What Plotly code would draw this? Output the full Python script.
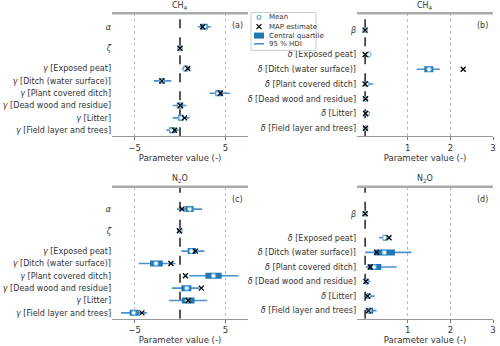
import plotly.graph_objects as go

### Data

gamma_labels = ["<i>α</i>", "<i>ζ</i>",
                "<i>γ</i> [Exposed peat]", "<i>γ</i> [Ditch (water surface)]",
                "<i>γ</i> [Plant covered ditch]", "<i>γ</i> [Dead wood and residue]",
                "<i>γ</i> [Litter]", "<i>γ</i> [Field layer and trees]"]
delta_labels = ["<i>β</i>",
                "<i>δ</i> [Exposed peat]", "<i>δ</i> [Ditch (water surface)]",
                "<i>δ</i> [Plant covered ditch]", "<i>δ</i> [Dead wood and residue]",
                "<i>δ</i> [Litter]", "<i>δ</i> [Field layer and trees]"]

# panel (a) CH4, gamma parameters
a_mean = [2.7, 0.0, 0.6, -2.0, 4.2, -0.05, 0.1, -0.9]
a_map = [2.5, 0.0, 0.85, -2.0, 4.45, 0.03, 0.5, -0.6]
a_q_lo = [2.3, -0.1, 0.4, -2.3, 3.9, -0.35, -0.2, -1.2]
a_q_hi = [3.05, 0.1, 0.85, -1.7, 4.7, 0.35, 0.4, -0.5]
a_hdi_lo = [1.95, -0.2, 0.2, -2.9, 3.25, -0.8, -0.8, -1.5]
a_hdi_hi = [3.4, 0.2, 1.15, -0.95, 5.5, 0.7, 1.05, -0.15]

# panel (b) CH4, delta parameters
b_mean = [0.0, 0.085, 1.5, 0.04, 0.01, 0.05, 0.01]
b_map = [0.0, 0.0, 2.3, 0.0, 0.01, 0.01, 0.01]
b_q_lo = [-0.005, 0.07, 1.39, 0.01, 0.0, 0.03, 0.0]
b_q_hi = [0.005, 0.1, 1.6, 0.07, 0.02, 0.06, 0.02]
b_hdi_lo = [-0.01, 0.01, 1.21, 0.0, -0.01, 0.0, -0.01]
b_hdi_hi = [0.01, 0.11, 1.75, 0.19, 0.04, 0.09, 0.03]

# panel (c) N2O, gamma parameters
c_mean = [1.07, 0.0, 1.25, -2.65, 3.7, 0.75, 0.8, -5.1]
c_map = [0.22, -0.07, 1.7, -1.0, 0.6, 2.35, 0.9, -4.2]
c_q_lo = [0.6, -0.05, 0.85, -3.3, 2.8, 0.15, 0.2, -5.55]
c_q_hi = [1.5, 0.05, 1.75, -1.9, 4.6, 1.25, 1.6, -4.55]
c_hdi_lo = [-0.33, -0.1, 0.15, -4.55, 1.0, -0.9, -1.2, -6.5]
c_hdi_hi = [2.43, 0.1, 2.7, -0.5, 6.45, 2.15, 3.0, -3.65]

# panel (d) N2O, delta parameters
d_mean = [0.0, 0.46, 0.45, 0.21, 0.03, 0.08, 0.1]
d_map = [0.0, 0.56, 0.27, 0.12, 0.02, 0.06, 0.08]
d_q_lo = [-0.005, 0.42, 0.22, 0.085, 0.01, 0.04, 0.05]
d_q_hi = [0.005, 0.5, 0.7, 0.38, 0.05, 0.13, 0.19]
d_hdi_lo = [-0.01, 0.33, 0.0, 0.01, 0.0, 0.02, 0.02]
d_hdi_hi = [0.01, 0.53, 1.09, 0.74, 0.12, 0.22, 0.27]

legend_names = ["Mean", "MAP estimate", "Central quartile", "95 % HDI"]

### Layout helpers

W, H = 500, 346
gamma_rows = [8.4, 6.65, 5, 4, 3, 2, 1, 0]
delta_rows = [6.65, 5, 4, 3, 2, 1, 0]

BOX = "#1f77b4"
HDI = "#4a92cf"
MEAN_EDGE = "#6aaee0"
FONT = "DejaVu Sans"

fig = go.Figure()

panels = [
    dict(ax="", mean=a_mean, mp=a_map, qlo=a_q_lo, qhi=a_q_hi, hlo=a_hdi_lo, hhi=a_hdi_hi,
         labels=gamma_labels, rows=gamma_rows, xdom=[0.224, 0.496], ydom=[0.606, 0.962],
         xr=[-7.5, 7.5], yr=[-0.5, 9.5], ticks=[-5, 5], tt=["−5", "5"],
         title="CH<sub>4</sub>", tag="(a)", zl=dict(color="#444", width=1.8)),
    dict(ax="2", mean=b_mean, mp=b_map, qlo=b_q_lo, qhi=b_q_hi, hlo=b_hdi_lo, hhi=b_hdi_hi,
         labels=delta_labels, rows=delta_rows, xdom=[0.714, 0.986], ydom=[0.606, 0.962],
         xr=[-0.19, 3.0], yr=[-0.55, 7.8], ticks=[1, 2, 3], tt=["1", "2", "3"],
         title="CH<sub>4</sub>", tag="(b)", zl=dict(color="black", width=1.3)),
    dict(ax="3", mean=c_mean, mp=c_map, qlo=c_q_lo, qhi=c_q_hi, hlo=c_hdi_lo, hhi=c_hdi_hi,
         labels=gamma_labels, rows=gamma_rows, xdom=[0.224, 0.496], ydom=[0.079, 0.46],
         xr=[-7.5, 7.5], yr=[-0.47, 10.2], ticks=[-5, 5], tt=["−5", "5"],
         title="N<sub>2</sub>O", tag="(c)", zl=dict(color="#444", width=1.8)),
    dict(ax="4", mean=d_mean, mp=d_map, qlo=d_q_lo, qhi=d_q_hi, hlo=d_hdi_lo, hhi=d_hdi_hi,
         labels=delta_labels, rows=delta_rows, xdom=[0.714, 0.986], ydom=[0.079, 0.46],
         xr=[-0.19, 3.0], yr=[-0.55, 8.5], ticks=[1, 2, 3], tt=["1", "2", "3"],
         title="N<sub>2</sub>O", tag="(d)", zl=dict(color="black", width=1.3)),
]

for p in panels:
    xa, ya = "x" + p["ax"], "y" + p["ax"]
    hx, hy, qx, qy = [], [], [], []
    for lo, hi, qlo, qhi, r in zip(p["hlo"], p["hhi"], p["qlo"], p["qhi"], p["rows"]):
        hx += [lo, hi, None]
        hy += [r, r, None]
        qx += [qlo, qhi, None]
        qy += [r, r, None]
    # zero line
    fig.add_trace(go.Scatter(x=[0, 0], y=p["yr"], mode="lines", xaxis=xa, yaxis=ya,
                             line=dict(dash="dash", **p["zl"]), hoverinfo="skip"))
    fig.add_trace(go.Scatter(x=hx, y=hy, mode="lines", xaxis=xa, yaxis=ya,
                             line=dict(color=HDI, width=1.6), name="95 % HDI"))
    fig.add_trace(go.Scatter(x=qx, y=qy, mode="lines", xaxis=xa, yaxis=ya,
                             line=dict(color=BOX, width=6), name="Central quartile"))
    fig.add_trace(go.Scatter(x=p["mean"], y=p["rows"], mode="markers", xaxis=xa, yaxis=ya,
                             marker=dict(symbol="circle", size=4.5, color="white",
                                         line=dict(color=MEAN_EDGE, width=1.1)),
                             name="Mean"))
    fig.add_trace(go.Scatter(x=p["mp"], y=p["rows"], mode="markers", xaxis=xa, yaxis=ya,
                             marker=dict(symbol="x-thin", size=5, color="black",
                                         line=dict(color="black", width=1.3)),
                             name="MAP estimate"))

    fig.update_layout({
        "xaxis" + p["ax"]: dict(domain=p["xdom"], range=p["xr"], anchor=ya, automargin=False,
                                tickvals=p["ticks"], ticktext=p["tt"], ticks="outside",
                                ticklen=3, tickcolor="#777", showline=True, linecolor="#999",
                                linewidth=1, showgrid=True, gridcolor="#bbb",
                                griddash="dot", gridwidth=1, zeroline=False,
                                tickfont=dict(size=8.5, color="#333"),
                                title=dict(text="Parameter value (-)",
                                           font=dict(size=8.5, color="#333"), standoff=2)),
        "yaxis" + p["ax"]: dict(domain=p["ydom"], range=p["yr"], anchor=xa, automargin=False,
                                tickvals=p["rows"], ticktext=p["labels"], ticks="",
                                showline=False, showgrid=False, zeroline=False,
                                tickfont=dict(size=8, color="#333")),
    })
    # thick top spine
    fig.add_shape(type="line", xref=xa + " domain", yref=ya + " domain",
                  x0=0, x1=1, y0=1, y1=1, line=dict(color="#aaa", width=2.5))
    fig.add_annotation(text=p["title"], xref=xa + " domain", yref=ya + " domain",
                       x=0.5, y=1.005, yanchor="bottom", showarrow=False,
                       font=dict(size=8, color="#333"))
    fig.add_annotation(text=p["tag"], xref=xa + " domain", yref=ya + " domain",
                       x=0.98, y=0.95, xanchor="right", yanchor="top", showarrow=False,
                       font=dict(size=8, color="#333"))

# compact hand-drawn legend (plotly's own legend rows are too tall here)
def px(x):
    return x / W


def py(y):
    return 1 - y / H


lx0, lx1, ly0, ly1 = 251, 316, 12.5, 50.5
entry_y = [17.3, 26.6, 35.6, 43.8]
sym_x = 259
fig.add_shape(type="rect", xref="paper", yref="paper", x0=px(lx0), x1=px(lx1),
              y0=py(ly1), y1=py(ly0), line=dict(color="#ccc", width=1),
              fillcolor="white", layer="above")
# Mean: hollow circle
fig.add_shape(type="circle", xref="paper", yref="paper",
              x0=px(sym_x - 2), x1=px(sym_x + 2), y0=py(entry_y[0] + 2), y1=py(entry_y[0] - 2),
              line=dict(color=MEAN_EDGE, width=1.1), fillcolor="white", layer="above")
# MAP: cross
for d in (1, -1):
    fig.add_shape(type="line", xref="paper", yref="paper",
                  x0=px(sym_x - 2.5), x1=px(sym_x + 2.5),
                  y0=py(entry_y[1] - 2.5 * d), y1=py(entry_y[1] + 2.5 * d),
                  line=dict(color="black", width=1.3), layer="above")
# Central quartile: filled rectangle
fig.add_shape(type="rect", xref="paper", yref="paper",
              x0=px(254), x1=px(264), y0=py(entry_y[2] + 3), y1=py(entry_y[2] - 3),
              line=dict(width=0), fillcolor=BOX, layer="above")
# HDI: line
fig.add_shape(type="line", xref="paper", yref="paper",
              x0=px(254), x1=px(264), y0=py(entry_y[3]), y1=py(entry_y[3]),
              line=dict(color=HDI, width=1.6), layer="above")
for name, ey in zip(legend_names, entry_y):
    fig.add_annotation(text=name, xref="paper", yref="paper", x=px(267), y=py(ey),
                       xanchor="left", yanchor="middle", showarrow=False,
                       font=dict(size=7, color="#333"))

fig.update_layout(
    width=W, height=H,
    margin=dict(l=0, r=0, t=0, b=0),
    paper_bgcolor="white", plot_bgcolor="rgba(0,0,0,0)",
    font=dict(family=FONT, color="#333"),
    showlegend=False,
)

fig.write_html("out.html", config={"displayModeBar": False},
               post_script="document.body.style.margin='0';")
